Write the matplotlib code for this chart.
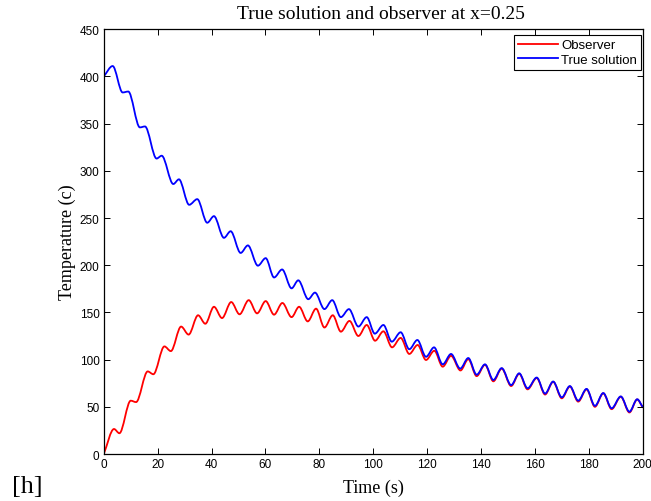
import matplotlib
matplotlib.use("Agg")
import matplotlib.pyplot as plt
from matplotlib.path import Path
from matplotlib.patches import PathPatch
from matplotlib.lines import Line2D

# ---- data (peaks / troughs of each curve) ----
true_t = [0, 3.3, 7.0, 9.1, 13.4, 15.3, 19.6, 21.5, 25.8, 27.9, 31.7, 34.7, 38.4,
          40.9, 44.6, 47.1, 50.8, 53.5, 57.2, 60.1, 63.2, 66.2, 69.7, 72.2, 75.9,
          78.4, 81.9, 84.8, 88.0, 91.0, 94.5, 97.6, 100.6, 103.8, 106.9, 110.2,
          113.4, 116.4, 119.6, 122.6, 125.8, 128.9, 132.3, 135.3, 138.4, 141.5,
          144.6, 147.7, 151.2, 154.2, 157.3, 160.7, 163.8, 166.8, 170.0, 173.0,
          176.1, 179.2, 182.3, 185.4, 188.5, 191.9, 195.1, 198.0, 200]
true_v = [400, 411, 383, 384, 346, 347, 313, 316, 286, 291, 264, 270, 245,
          252, 229, 236, 213, 221, 199.5, 207.5, 187, 195.5, 175.5, 184, 164,
          171, 153.5, 163, 145, 153.5, 135, 145, 127.5, 136.7, 119, 129,
          111, 120.8, 103, 113, 95, 106, 90.5, 101.7, 84, 95,
          78.4, 91, 73, 85.5, 69.6, 81, 64, 76.8, 60, 72,
          56.5, 69, 51, 64.6, 48.4, 61, 44.8, 58, 50]

obs_t = [0, 3.8, 5.8, 10.0, 12.0, 16.3, 18.4, 22.5, 24.9, 28.7, 31.5, 35.0, 37.7,
         40.9, 43.9, 47.3, 50.4, 53.8, 56.9, 60.1, 63.2, 66.3, 69.7, 72.5, 75.7,
         78.8, 81.9, 85.0, 88.0, 91.2, 94.5, 97.6, 100.7, 103.8, 107.0, 110.2,
         113.4, 116.5, 119.6, 122.7, 125.8, 128.9, 132.4, 135.3, 138.4, 141.5,
         144.6, 147.7, 151.2, 154.2, 157.3, 160.7, 163.8, 166.8, 170.0, 173.0,
         176.1, 179.2, 182.3, 185.4, 188.5, 191.9, 195.1, 198.0, 200]
obs_v = [0, 26.5, 22, 56.5, 55, 87.5, 84.5, 114, 109, 135, 126.5, 147, 138,
         156, 144, 161, 148, 163, 149, 162, 147.6, 160, 145, 156, 140.5,
         154, 134, 147, 129.6, 141, 125, 136.7, 120, 130, 113, 123,
         106, 115.5, 99.6, 109.4, 92.5, 104, 88.5, 100.5, 82.5, 94.5,
         77, 90.5, 72, 85, 68.5, 80.5, 63, 76.5, 59, 71.5,
         55.5, 68.5, 50, 64.3, 47.5, 60.7, 44, 57.8, 49.5]

x_ticks = [0, 20, 40, 60, 80, 100, 120, 140, 160, 180, 200]
y_ticks = [0, 50, 100, 150, 200, 250, 300, 350, 400, 450]

title = "True solution and observer at x=0.25"
xlabel = "Time (s)"
ylabel = "Temperature (c)"
labels = ["Observer", "True solution"]
colors = [(1, 0, 0), (0, 0, 1)]

sans = ["Liberation Sans", "DejaVu Sans"]
serif = ["Liberation Serif", "DejaVu Serif"]


def smooth_path(ts, vs):
    """Cubic Bezier path through the extrema with horizontal tangents."""
    verts = [(ts[0], vs[0])]
    codes = [Path.MOVETO]
    n = len(ts)
    for i in range(n - 1):
        t0, v0, t1, v1 = ts[i], vs[i], ts[i + 1], vs[i + 1]
        d = (t1 - t0) / 3.0
        c1v = v0 + (v1 - v0) / 3.0 if i == 0 else v0
        c2v = v1 - (v1 - v0) / 3.0 if i == n - 2 else v1
        verts += [(t0 + d, c1v), (t1 - d, c2v), (t1, v1)]
        codes += [Path.CURVE4] * 3
    return Path(verts, codes)


fig = plt.figure(figsize=(6.51, 5.02), dpi=100)
ax = fig.add_axes([0.1594, 0.0936, 0.8277, 0.8462])

for ts, vs, c in [(obs_t, obs_v, colors[0]), (true_t, true_v, colors[1])]:
    ax.add_patch(PathPatch(smooth_path(ts, vs), facecolor="none",
                           edgecolor=c, lw=1.3, capstyle="round",
                           joinstyle="round"))

ax.set_xlim(0, 200)
ax.set_ylim(0, 450)
ax.set_xticks(x_ticks)
ax.set_yticks(y_ticks)
ax.tick_params(direction="in", length=4, width=0.7, top=True, right=True,
               labelsize=8.5, pad=3)
for lab in ax.get_xticklabels() + ax.get_yticklabels():
    lab.set_family(sans)
for s in ax.spines.values():
    s.set_linewidth(0.9)

ax.set_title(title, family=serif, fontsize=14, pad=8, x=0.514)
ax.set_xlabel(xlabel, family=serif, fontsize=13, labelpad=6)
ax.set_ylabel(ylabel, family=serif, fontsize=13, labelpad=3)

handles = [Line2D([], [], color=colors[0], lw=1.3),
           Line2D([], [], color=colors[1], lw=1.3)]
leg = ax.legend(handles, labels, loc="upper right", bbox_to_anchor=(0.997, 0.986),
                borderaxespad=0, prop={"family": sans, "size": 9.5},
                fancybox=False, edgecolor="black", framealpha=1,
                handlelength=3.0, handletextpad=0.25, borderpad=0.3,
                labelspacing=0.18)
leg.get_frame().set_linewidth(0.8)

fig.text(0.019, 0.018, "[h]", family=serif, fontsize=19)

fig.savefig("out.png", dpi=100)
